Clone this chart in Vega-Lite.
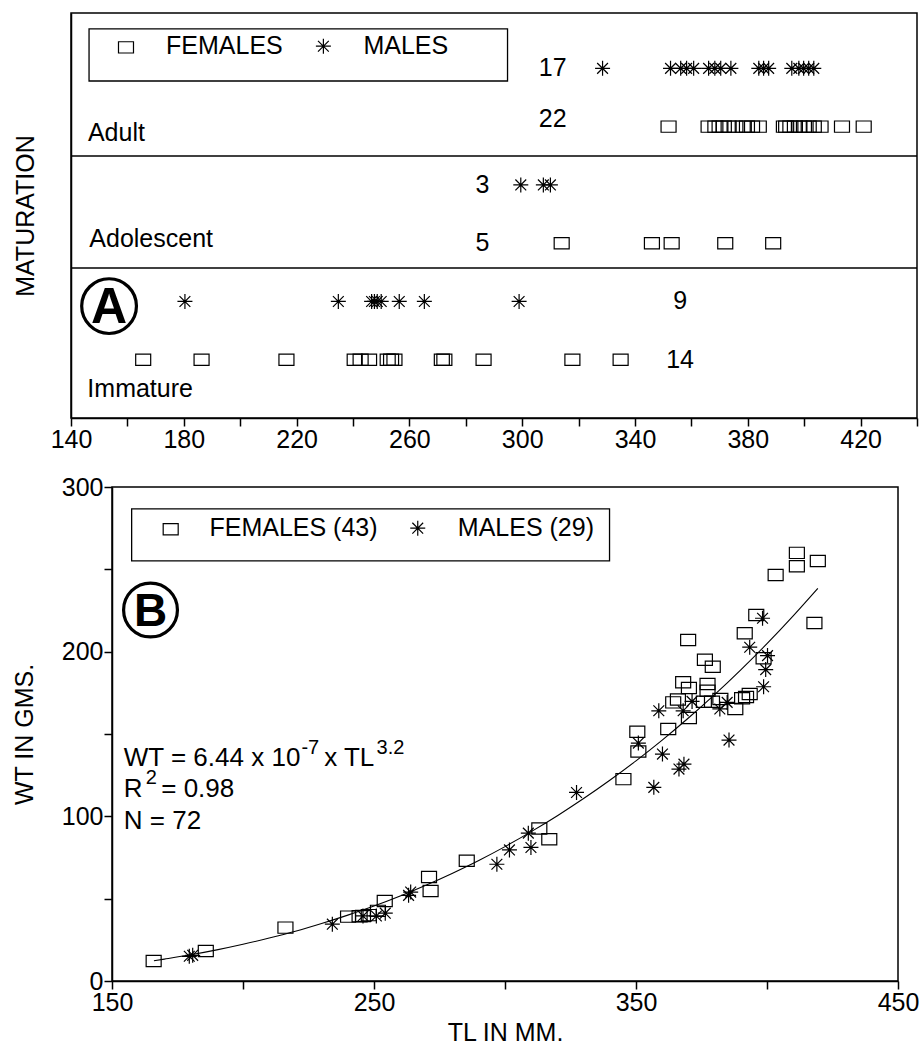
{
  "$schema": "https://vega.github.io/schema/vega-lite/v6.json",
  "background": "white",
  "padding": {"left": 12, "top": 12, "right": 0, "bottom": 0},
  "spacing": 22,
  "config": {
    "font": "Liberation Sans",
    "view": {"stroke": "black", "strokeWidth": 1.5},
    "axis": {
      "grid": false,
      "domainColor": "black",
      "domainWidth": 1.5,
      "tickColor": "black",
      "tickWidth": 1.5,
      "tickSize": 8,
      "labelColor": "black",
      "labelFont": "Liberation Sans",
      "labelFontSize": 25,
      "labelPadding": 1,
      "labelFlush": false,
      "labelOverlap": false,
      "titleColor": "black",
      "titleFont": "Liberation Sans",
      "titleFontSize": 25,
      "titleFontWeight": "normal"
    },
    "text": {"color": "black", "font": "Liberation Sans"}
  },
  "datasets": {
    "maturation": [
      {"stage": "Adult", "sex": "M", "tl": 328.5, "row": 6},
      {"stage": "Adult", "sex": "M", "tl": 352.6, "row": 6},
      {"stage": "Adult", "sex": "M", "tl": 356.2, "row": 6},
      {"stage": "Adult", "sex": "M", "tl": 358.3, "row": 6},
      {"stage": "Adult", "sex": "M", "tl": 360.8, "row": 6},
      {"stage": "Adult", "sex": "M", "tl": 366.1, "row": 6},
      {"stage": "Adult", "sex": "M", "tl": 368.3, "row": 6},
      {"stage": "Adult", "sex": "M", "tl": 370.4, "row": 6},
      {"stage": "Adult", "sex": "M", "tl": 374.0, "row": 6},
      {"stage": "Adult", "sex": "M", "tl": 383.9, "row": 6},
      {"stage": "Adult", "sex": "M", "tl": 385.6, "row": 6},
      {"stage": "Adult", "sex": "M", "tl": 387.4, "row": 6},
      {"stage": "Adult", "sex": "M", "tl": 395.6, "row": 6},
      {"stage": "Adult", "sex": "M", "tl": 398.1, "row": 6},
      {"stage": "Adult", "sex": "M", "tl": 399.8, "row": 6},
      {"stage": "Adult", "sex": "M", "tl": 401.6, "row": 6},
      {"stage": "Adult", "sex": "M", "tl": 403.4, "row": 6},
      {"stage": "Adult", "sex": "F", "tl": 351.9, "row": 5},
      {"stage": "Adult", "sex": "F", "tl": 366.1, "row": 5},
      {"stage": "Adult", "sex": "F", "tl": 368.5, "row": 5},
      {"stage": "Adult", "sex": "F", "tl": 370.0, "row": 5},
      {"stage": "Adult", "sex": "F", "tl": 371.5, "row": 5},
      {"stage": "Adult", "sex": "F", "tl": 373.2, "row": 5},
      {"stage": "Adult", "sex": "F", "tl": 375.6, "row": 5},
      {"stage": "Adult", "sex": "F", "tl": 378.2, "row": 5},
      {"stage": "Adult", "sex": "F", "tl": 379.7, "row": 5},
      {"stage": "Adult", "sex": "F", "tl": 381.5, "row": 5},
      {"stage": "Adult", "sex": "F", "tl": 383.9, "row": 5},
      {"stage": "Adult", "sex": "F", "tl": 392.8, "row": 5},
      {"stage": "Adult", "sex": "F", "tl": 393.6, "row": 5},
      {"stage": "Adult", "sex": "F", "tl": 395.1, "row": 5},
      {"stage": "Adult", "sex": "F", "tl": 396.7, "row": 5},
      {"stage": "Adult", "sex": "F", "tl": 398.3, "row": 5},
      {"stage": "Adult", "sex": "F", "tl": 399.9, "row": 5},
      {"stage": "Adult", "sex": "F", "tl": 401.6, "row": 5},
      {"stage": "Adult", "sex": "F", "tl": 403.4, "row": 5},
      {"stage": "Adult", "sex": "F", "tl": 405.8, "row": 5},
      {"stage": "Adult", "sex": "F", "tl": 413.4, "row": 5},
      {"stage": "Adult", "sex": "F", "tl": 421.1, "row": 5},
      {"stage": "Adolescent", "sex": "M", "tl": 299.5, "row": 4},
      {"stage": "Adolescent", "sex": "M", "tl": 307.5, "row": 4},
      {"stage": "Adolescent", "sex": "M", "tl": 310.0, "row": 4},
      {"stage": "Adolescent", "sex": "F", "tl": 314.0, "row": 3},
      {"stage": "Adolescent", "sex": "F", "tl": 346.0, "row": 3},
      {"stage": "Adolescent", "sex": "F", "tl": 353.0, "row": 3},
      {"stage": "Adolescent", "sex": "F", "tl": 372.0, "row": 3},
      {"stage": "Adolescent", "sex": "F", "tl": 389.0, "row": 3},
      {"stage": "Immature", "sex": "M", "tl": 180.4, "row": 2},
      {"stage": "Immature", "sex": "M", "tl": 234.8, "row": 2},
      {"stage": "Immature", "sex": "M", "tl": 246.6, "row": 2},
      {"stage": "Immature", "sex": "M", "tl": 247.6, "row": 2},
      {"stage": "Immature", "sex": "M", "tl": 248.6, "row": 2},
      {"stage": "Immature", "sex": "M", "tl": 250.0, "row": 2},
      {"stage": "Immature", "sex": "M", "tl": 256.4, "row": 2},
      {"stage": "Immature", "sex": "M", "tl": 265.3, "row": 2},
      {"stage": "Immature", "sex": "M", "tl": 298.9, "row": 2},
      {"stage": "Immature", "sex": "F", "tl": 165.6, "row": 1},
      {"stage": "Immature", "sex": "F", "tl": 186.3, "row": 1},
      {"stage": "Immature", "sex": "F", "tl": 216.4, "row": 1},
      {"stage": "Immature", "sex": "F", "tl": 240.6, "row": 1},
      {"stage": "Immature", "sex": "F", "tl": 242.7, "row": 1},
      {"stage": "Immature", "sex": "F", "tl": 245.7, "row": 1},
      {"stage": "Immature", "sex": "F", "tl": 252.3, "row": 1},
      {"stage": "Immature", "sex": "F", "tl": 253.5, "row": 1},
      {"stage": "Immature", "sex": "F", "tl": 254.7, "row": 1},
      {"stage": "Immature", "sex": "F", "tl": 271.5, "row": 1},
      {"stage": "Immature", "sex": "F", "tl": 272.4, "row": 1},
      {"stage": "Immature", "sex": "F", "tl": 286.3, "row": 1},
      {"stage": "Immature", "sex": "F", "tl": 317.8, "row": 1},
      {"stage": "Immature", "sex": "F", "tl": 334.9, "row": 1}
    ],
    "weights": [
      {"sex": "F", "tl": 165.9, "wt": 12.2},
      {"sex": "F", "tl": 185.8, "wt": 18.2},
      {"sex": "F", "tl": 216.2, "wt": 32.4},
      {"sex": "F", "tl": 240.1, "wt": 39.1},
      {"sex": "F", "tl": 244.5, "wt": 39.3},
      {"sex": "F", "tl": 245.8, "wt": 39.5},
      {"sex": "F", "tl": 248.0, "wt": 40.0},
      {"sex": "F", "tl": 251.5, "wt": 42.6},
      {"sex": "F", "tl": 254.1, "wt": 48.6},
      {"sex": "F", "tl": 271.0, "wt": 63.2},
      {"sex": "F", "tl": 271.6, "wt": 54.7},
      {"sex": "F", "tl": 285.4, "wt": 73.0},
      {"sex": "F", "tl": 313.1, "wt": 92.6},
      {"sex": "F", "tl": 316.9, "wt": 86.1},
      {"sex": "F", "tl": 345.2, "wt": 122.6},
      {"sex": "F", "tl": 350.5, "wt": 151.4},
      {"sex": "F", "tl": 350.9, "wt": 139.4},
      {"sex": "F", "tl": 362.3, "wt": 153.0},
      {"sex": "F", "tl": 364.2, "wt": 169.2},
      {"sex": "F", "tl": 366.0, "wt": 171.0},
      {"sex": "F", "tl": 368.0, "wt": 181.4},
      {"sex": "F", "tl": 370.2, "wt": 177.9},
      {"sex": "F", "tl": 369.9, "wt": 207.1},
      {"sex": "F", "tl": 370.2, "wt": 159.7},
      {"sex": "F", "tl": 376.3, "wt": 195.1},
      {"sex": "F", "tl": 379.3, "wt": 190.9},
      {"sex": "F", "tl": 377.3, "wt": 180.4},
      {"sex": "F", "tl": 377.3, "wt": 176.3},
      {"sex": "F", "tl": 375.9, "wt": 169.6},
      {"sex": "F", "tl": 379.0, "wt": 169.6},
      {"sex": "F", "tl": 382.2, "wt": 171.2},
      {"sex": "F", "tl": 387.9, "wt": 165.2},
      {"sex": "F", "tl": 390.5, "wt": 171.7},
      {"sex": "F", "tl": 392.0, "wt": 172.5},
      {"sex": "F", "tl": 393.4, "wt": 174.3},
      {"sex": "F", "tl": 391.5, "wt": 211.2},
      {"sex": "F", "tl": 395.9, "wt": 222.3},
      {"sex": "F", "tl": 398.7, "wt": 196.0},
      {"sex": "F", "tl": 403.3, "wt": 246.6},
      {"sex": "F", "tl": 411.4, "wt": 260.0},
      {"sex": "F", "tl": 411.4, "wt": 251.9},
      {"sex": "F", "tl": 419.4, "wt": 255.1},
      {"sex": "F", "tl": 418.1, "wt": 217.4},
      {"sex": "M", "tl": 179.5, "wt": 15.0},
      {"sex": "M", "tl": 180.8, "wt": 15.6},
      {"sex": "M", "tl": 234.1, "wt": 34.5},
      {"sex": "M", "tl": 245.8, "wt": 39.5},
      {"sex": "M", "tl": 250.9, "wt": 39.5},
      {"sex": "M", "tl": 254.3, "wt": 41.2},
      {"sex": "M", "tl": 263.2, "wt": 52.0},
      {"sex": "M", "tl": 264.0, "wt": 54.0},
      {"sex": "M", "tl": 296.9, "wt": 70.9},
      {"sex": "M", "tl": 301.7, "wt": 79.6},
      {"sex": "M", "tl": 308.9, "wt": 89.8},
      {"sex": "M", "tl": 309.9, "wt": 81.1},
      {"sex": "M", "tl": 327.3, "wt": 114.5},
      {"sex": "M", "tl": 350.9, "wt": 144.5},
      {"sex": "M", "tl": 356.8, "wt": 117.6},
      {"sex": "M", "tl": 360.1, "wt": 137.8},
      {"sex": "M", "tl": 366.4, "wt": 128.7},
      {"sex": "M", "tl": 368.3, "wt": 131.7},
      {"sex": "M", "tl": 358.7, "wt": 164.1},
      {"sex": "M", "tl": 368.0, "wt": 164.1},
      {"sex": "M", "tl": 371.4, "wt": 169.8},
      {"sex": "M", "tl": 382.0, "wt": 165.2},
      {"sex": "M", "tl": 384.8, "wt": 169.2},
      {"sex": "M", "tl": 385.5, "wt": 146.3},
      {"sex": "M", "tl": 393.4, "wt": 202.7},
      {"sex": "M", "tl": 398.3, "wt": 220.3},
      {"sex": "M", "tl": 400.2, "wt": 197.6},
      {"sex": "M", "tl": 399.5, "wt": 189.1},
      {"sex": "M", "tl": 398.7, "wt": 178.7}
    ],
    "curve": [
      {"tl": 166, "wt": 12.3},
      {"tl": 170, "wt": 13.3},
      {"tl": 180, "wt": 15.9},
      {"tl": 190, "wt": 18.9},
      {"tl": 200, "wt": 22.3},
      {"tl": 210, "wt": 26.1},
      {"tl": 220, "wt": 30.2},
      {"tl": 230, "wt": 34.9},
      {"tl": 240, "wt": 40.0},
      {"tl": 250, "wt": 45.5},
      {"tl": 260, "wt": 51.6},
      {"tl": 270, "wt": 58.3},
      {"tl": 280, "wt": 65.5},
      {"tl": 290, "wt": 73.2},
      {"tl": 300, "wt": 81.6},
      {"tl": 310, "wt": 90.7},
      {"tl": 320, "wt": 100.4},
      {"tl": 330, "wt": 110.8},
      {"tl": 340, "wt": 121.9},
      {"tl": 350, "wt": 133.7},
      {"tl": 360, "wt": 146.3},
      {"tl": 370, "wt": 159.7},
      {"tl": 380, "wt": 173.9},
      {"tl": 390, "wt": 189.0},
      {"tl": 400, "wt": 204.9},
      {"tl": 410, "wt": 221.8},
      {"tl": 419.4, "wt": 238.5}
    ]
  },
  "vconcat": [
    {
      "width": 846,
      "height": 405,
      "data": {"values": [{}]},
      "layer": [
        {
          "data": {"name": "maturation"},
          "mark": {"type": "point", "filled": false, "stroke": "black", "strokeWidth": 1.2, "opacity": 1, "size": 225},
          "encoding": {
            "x": {"field": "tl", "type": "quantitative", "scale": {"domain": [140, 440], "nice": false, "zero": false},
              "axis": {"title": null, "values": [140, 160, 180, 200, 220, 240, 260, 280, 300, 320, 340, 360, 380, 400, 420, 440],
                "labelExpr": "(datum.value - 140) % 40 == 0 && datum.value < 440 ? datum.value : ''"}},
            "y": {"field": "row", "type": "quantitative", "scale": {"domain": [0, 6.95], "nice": false, "zero": false},
              "axis": {"title": "MATURATION", "labels": false, "ticks": false, "titlePadding": 33}},
            "shape": {"field": "sex", "type": "nominal", "legend": null,
              "scale": {"domain": ["F", "M"], "range": ["M-1,-0.75L1,-0.75L1,0.75L-1,0.75Z", "M-1,0L1,0M0,-1L0,1M-0.72,-0.72L0.72,0.72M-0.72,0.72L0.72,-0.72"]}}
          }
        },
        {"mark": {"type": "rule", "stroke": "black", "strokeWidth": 1.5}, "encoding": {"y": {"datum": 4.496}}},
        {"mark": {"type": "rule", "stroke": "black", "strokeWidth": 1.5}, "encoding": {"y": {"datum": 2.574}}},
        {"mark": {"type": "text", "text": "Adult", "align": "left", "baseline": "middle", "fontSize": 25}, "encoding": {"x": {"datum": 146.0}, "y": {"datum": 4.89}}},
        {"mark": {"type": "text", "text": "Adolescent", "align": "left", "baseline": "middle", "fontSize": 25}, "encoding": {"x": {"datum": 146.5}, "y": {"datum": 3.07}}},
        {"mark": {"type": "text", "text": "Immature", "align": "left", "baseline": "middle", "fontSize": 25}, "encoding": {"x": {"datum": 145.8}, "y": {"datum": 0.5}}},
        {
          "data": {"name": "maturation"},
          "transform": [{"filter": "datum.stage == 'Adult' && datum.sex == 'M'"}, {"aggregate": [{"op": "count", "as": "n"}], "groupby": ["row"]}],
          "mark": {"type": "text", "align": "center", "baseline": "middle", "fontSize": 25},
          "encoding": {"x": {"datum": 310.8}, "y": {"field": "row", "type": "quantitative"}, "text": {"field": "n", "type": "quantitative"}}
        },
        {
          "data": {"name": "maturation"},
          "transform": [{"filter": "datum.stage == 'Adult' && datum.sex == 'F'"}, {"aggregate": [{"op": "count", "as": "n"}], "groupby": ["row"]}],
          "mark": {"type": "text", "align": "center", "baseline": "middle", "fontSize": 25, "dy": -8},
          "encoding": {"x": {"datum": 310.8}, "y": {"field": "row", "type": "quantitative"}, "text": {"field": "n", "type": "quantitative"}}
        },
        {
          "data": {"name": "maturation"},
          "transform": [{"filter": "datum.stage == 'Adolescent'"}, {"aggregate": [{"op": "count", "as": "n"}], "groupby": ["row"]}],
          "mark": {"type": "text", "align": "center", "baseline": "middle", "fontSize": 25},
          "encoding": {"x": {"datum": 285.9}, "y": {"field": "row", "type": "quantitative"}, "text": {"field": "n", "type": "quantitative"}}
        },
        {
          "data": {"name": "maturation"},
          "transform": [{"filter": "datum.stage == 'Immature'"}, {"aggregate": [{"op": "count", "as": "n"}], "groupby": ["row"]}],
          "mark": {"type": "text", "align": "center", "baseline": "middle", "fontSize": 25},
          "encoding": {"x": {"datum": 356.0}, "y": {"field": "row", "type": "quantitative"}, "text": {"field": "n", "type": "quantitative"}}
        },
        {"mark": {"type": "rect", "fill": "white", "stroke": "black", "strokeWidth": 1.3},
          "encoding": {"x": {"datum": 146.4}, "x2": {"datum": 294.8}, "y": {"datum": 6.676}, "y2": {"datum": 5.783}}},
        {"mark": {"type": "point", "shape": "M-1,-0.75L1,-0.75L1,0.75L-1,0.75Z", "filled": false, "stroke": "black", "strokeWidth": 1.2, "opacity": 1, "size": 225},
          "encoding": {"x": {"datum": 159.5}, "y": {"datum": 6.36}}},
        {"mark": {"type": "point", "shape": "M-1,0L1,0M0,-1L0,1M-0.72,-0.72L0.72,0.72M-0.72,0.72L0.72,-0.72", "filled": false, "stroke": "black", "strokeWidth": 1.2, "opacity": 1, "size": 225},
          "encoding": {"x": {"datum": 229.5}, "y": {"datum": 6.38}}},
        {"mark": {"type": "text", "text": "FEMALES", "align": "left", "baseline": "middle", "fontSize": 25}, "encoding": {"x": {"datum": 173.7}, "y": {"datum": 6.384}}},
        {"mark": {"type": "text", "text": "MALES", "align": "left", "baseline": "middle", "fontSize": 25}, "encoding": {"x": {"datum": 243.7}, "y": {"datum": 6.384}}},
        {"mark": {"type": "point", "shape": "circle", "filled": false, "stroke": "black", "strokeWidth": 3.2, "opacity": 1, "size": 3000},
          "encoding": {"x": {"datum": 153.5}, "y": {"datum": 1.92}}},
        {"mark": {"type": "text", "text": "A", "align": "center", "baseline": "middle", "fontSize": 50, "fontWeight": "bold", "dy": 2},
          "encoding": {"x": {"datum": 153.5}, "y": {"datum": 1.92}}}
      ]
    },
    {
      "width": 827,
      "height": 494,
      "view": {"stroke": null},
      "data": {"values": [{}]},
      "layer": [
        {
          "data": {"name": "curve"},
          "mark": {"type": "line", "stroke": "black", "strokeWidth": 1.1, "interpolate": "monotone"},
          "encoding": {
            "x": {"field": "tl", "type": "quantitative", "scale": {"domain": [150, 450], "range": [41, 827], "nice": false, "zero": false},
              "axis": {"title": "TL IN MM.", "titlePadding": 5, "values": [150, 200, 250, 300, 350, 400, 450],
                "labelExpr": "datum.value % 100 == 50 ? datum.value : ''"}},
            "y": {"field": "wt", "type": "quantitative", "scale": {"domain": [0, 300], "nice": false},
              "axis": {"title": "WT IN GMS.", "titlePadding": 24, "offset": -41, "values": [0, 50, 100, 150, 200, 250, 300],
                "labelExpr": "datum.value % 100 == 0 ? datum.value : ''"}}
          }
        },
        {"mark": {"type": "rect", "fillOpacity": 0, "stroke": "black", "strokeWidth": 1.5},
          "encoding": {"x": {"datum": 150}, "x2": {"datum": 450}, "y": {"datum": 0}, "y2": {"datum": 300}}},
        {
          "data": {"name": "weights"},
          "mark": {"type": "point", "filled": false, "stroke": "black", "strokeWidth": 1.2, "opacity": 1, "size": 225},
          "encoding": {
            "x": {"field": "tl", "type": "quantitative"},
            "y": {"field": "wt", "type": "quantitative"},
            "shape": {"field": "sex", "type": "nominal", "legend": null,
              "scale": {"domain": ["F", "M"], "range": ["M-1,-0.75L1,-0.75L1,0.75L-1,0.75Z", "M-1,0L1,0M0,-1L0,1M-0.72,-0.72L0.72,0.72M-0.72,0.72L0.72,-0.72"]}}
          }
        },
        {"mark": {"type": "rect", "fill": "white", "stroke": "black", "strokeWidth": 1.3},
          "encoding": {"x": {"datum": 157.5}, "x2": {"datum": 339.9}, "y": {"datum": 286.7}, "y2": {"datum": 255.1}}},
        {"mark": {"type": "point", "shape": "M-1,-0.75L1,-0.75L1,0.75L-1,0.75Z", "filled": false, "stroke": "black", "strokeWidth": 1.2, "opacity": 1, "size": 225},
          "encoding": {"x": {"datum": 172.4}, "y": {"datum": 274.3}}},
        {"mark": {"type": "point", "shape": "M-1,0L1,0M0,-1L0,1M-0.72,-0.72L0.72,0.72M-0.72,0.72L0.72,-0.72", "filled": false, "stroke": "black", "strokeWidth": 1.2, "opacity": 1, "size": 225},
          "encoding": {"x": {"datum": 266.7}, "y": {"datum": 275.0}}},
        {"mark": {"type": "text", "text": "FEMALES (43)", "align": "left", "baseline": "middle", "fontSize": 25}, "encoding": {"x": {"datum": 187.2}, "y": {"datum": 275.2}}},
        {"mark": {"type": "text", "text": "MALES (29)", "align": "left", "baseline": "middle", "fontSize": 25}, "encoding": {"x": {"datum": 282.0}, "y": {"datum": 275.2}}},
        {"mark": {"type": "point", "shape": "circle", "filled": false, "stroke": "black", "strokeWidth": 3.2, "opacity": 1, "size": 2900},
          "encoding": {"x": {"datum": 164.7}, "y": {"datum": 225.3}}},
        {"mark": {"type": "text", "text": "B", "align": "center", "baseline": "middle", "fontSize": 46, "fontWeight": "bold", "dy": 2},
          "encoding": {"x": {"datum": 164.7}, "y": {"datum": 225.3}}},
        {"mark": {"type": "text", "text": "WT = 6.44 x 10", "align": "left", "baseline": "alphabetic", "fontSize": 26}, "encoding": {"x": {"datum": 154.5}, "y": {"datum": 130.5}}},
        {"mark": {"type": "text", "text": "-7", "align": "left", "baseline": "alphabetic", "fontSize": 20}, "encoding": {"x": {"datum": 222.3}, "y": {"datum": 137.9}}},
        {"mark": {"type": "text", "text": "x TL", "align": "left", "baseline": "alphabetic", "fontSize": 26}, "encoding": {"x": {"datum": 231.0}, "y": {"datum": 130.5}}},
        {"mark": {"type": "text", "text": "3.2", "align": "left", "baseline": "alphabetic", "fontSize": 20}, "encoding": {"x": {"datum": 251.0}, "y": {"datum": 137.9}}},
        {"mark": {"type": "text", "text": "R", "align": "left", "baseline": "alphabetic", "fontSize": 26}, "encoding": {"x": {"datum": 154.5}, "y": {"datum": 111.7}}},
        {"mark": {"type": "text", "text": "2", "align": "left", "baseline": "alphabetic", "fontSize": 20}, "encoding": {"x": {"datum": 162.9}, "y": {"datum": 119.6}}},
        {"mark": {"type": "text", "text": "= 0.98", "align": "left", "baseline": "alphabetic", "fontSize": 26}, "encoding": {"x": {"datum": 168.8}, "y": {"datum": 111.7}}},
        {"mark": {"type": "text", "text": "N = 72", "align": "left", "baseline": "alphabetic", "fontSize": 26}, "encoding": {"x": {"datum": 154.5}, "y": {"datum": 92.2}}}
      ]
    }
  ]
}
